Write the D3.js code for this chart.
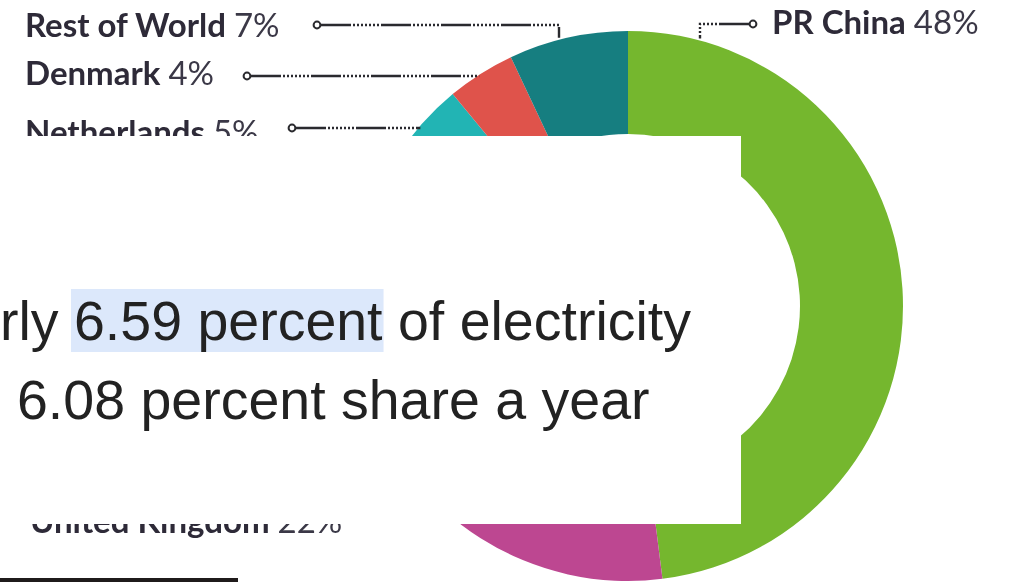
<!DOCTYPE html>
<html>
<head>
<meta charset="utf-8">
<script src="https://cdn.jsdelivr.net/npm/d3@7"></script>
<style>
  html, body { margin: 0; padding: 0; background: #fff; overflow: hidden; }
  svg { display: block; }
</style>
</head>
<body>
<svg id="chart" width="1010" height="582"></svg>
<script>
// Offshore wind share by country (clockwise from 12 o'clock)
const countries = ["PR China", "United Kingdom", "Germany", "Netherlands", "Denmark", "Rest of World"];
const shares    = [48, 22, 14, 5, 4, 7];
const colors    = ["#74b72f", "#bd4791", "#2f6fb5", "#23b4b4", "#df534c", "#197e80"];

// Label placement (baseline of each label, dot where its leader starts)
const labelX        = [772, 30, 25, 25, 25, 25];
const labelBaseline = [34, 533, 196, 144, 85, 37];
const dotX          = [753, null, 262, 292, 247, 317];
const leaderY       = [24, null, 186, 128, 76, 25];
const elbowX        = [700, null, null, null, null, 559];

// Caption lines laid over the chart
const captionLines = ["rly 6.59 percent of electricity", "6.08 percent share a year"];
const captionHighlight = "6.59 percent";

const svg = d3.select("#chart");
const cx = 628, cy = 306, R = 275, r0 = 172;

const defs = svg.append("defs");
defs.append("filter").attr("id", "soft")
  .attr("x", "-5%").attr("y", "-5%").attr("width", "110%").attr("height", "110%")
  .append("feGaussianBlur").attr("stdDeviation", 0.7);

const chart = svg.append("g").attr("filter", "url(#soft)");

const pie = d3.pie().sort(null).value(d => d.share);
const arc = d3.arc().innerRadius(r0).outerRadius(R);
const data = countries.map((c, i) => ({ name: c, share: shares[i], color: colors[i] }));

chart.append("g").attr("transform", `translate(${cx},${cy})`)
  .selectAll("path").data(pie(data)).join("path")
  .attr("d", arc)
  .attr("fill", d => d.data.color);

// x on the outer rim for a given y (left half), y on the rim for a given x (top half)
const rimX = y => cx - Math.sqrt(R * R - (y - cy) * (y - cy));
const rimY = x => cy - Math.sqrt(R * R - (x - cx) * (x - cx));

const dash = [30, 2, 2, 2, 2, 2, 2, 2, 2, 2, 2, 2, 2, 2, 2, 2].join(" ");
const leaders = chart.append("g")
  .attr("fill", "none").attr("stroke", "#2a2a2e").attr("stroke-width", 2.4);

data.forEach((d, i) => {
  if (dotX[i] == null) return;
  const y = leaderY[i];
  let pts;
  if (elbowX[i] != null) {
    pts = [[dotX[i], y], [elbowX[i], y], [elbowX[i], rimY(elbowX[i]) - 2]];
  } else {
    pts = [[dotX[i], y], [rimX(y) + 2, y]];
  }
  const startOff = i === 0 ? -4 : 4;
  pts[0] = [pts[0][0] + startOff, pts[0][1]];
  leaders.append("path")
    .attr("d", d3.line()(pts))
    .attr("stroke-dasharray", dash);
  leaders.append("circle")
    .attr("cx", dotX[i]).attr("cy", y).attr("r", 3.4)
    .attr("fill", "#fff").attr("stroke-width", 2);
});

const labels = chart.append("g")
  .attr("font-family", "Lato, 'Open Sans', sans-serif")
  .attr("font-size", 33)
  .attr("fill", "#2d2b38");

data.forEach((d, i) => {
  const t = labels.append("text")
    .attr("x", labelX[i]).attr("y", labelBaseline[i]);
  t.append("tspan").attr("font-weight", 700).text(d.name);
  t.append("tspan").attr("font-weight", 400).attr("fill", "#3a3846")
    .attr("dx", 8).text(d.share + "%");
});

// Caption panel
const panel = svg.append("g");
panel.append("rect")
  .attr("x", 0).attr("y", 136).attr("width", 741).attr("height", 388)
  .attr("fill", "#fff");

const capFont = "'Liberation Sans', Arial, sans-serif";
const capSize = 55.5;
const hiRect = panel.append("rect").attr("fill", "#dce8fb");

const line1 = panel.append("text")
  .attr("font-family", capFont).attr("font-size", capSize).attr("fill", "#222")
  .attr("x", 0).attr("y", 340)
  .text(captionLines[0]);

// highlight behind the selected words, from the glyph positions
const hiStart = captionLines[0].indexOf(captionHighlight);
const hiEnd = hiStart + captionHighlight.length - 1;
const n = line1.node();
const x0 = n.getStartPositionOfChar(hiStart).x;
const x1 = n.getEndPositionOfChar(hiEnd).x;
hiRect.attr("x", x0 - 3).attr("y", 289).attr("width", x1 - x0 + 4).attr("height", 63);

panel.append("text")
  .attr("font-family", capFont).attr("font-size", capSize).attr("fill", "#222")
  .attr("x", 17).attr("y", 419)
  .text(captionLines[1]);

// strip along the bottom edge
svg.append("rect").attr("x", 0).attr("y", 578).attr("width", 238).attr("height", 4)
  .attr("fill", "#1f1b1b");
</script>
</body>
</html>
